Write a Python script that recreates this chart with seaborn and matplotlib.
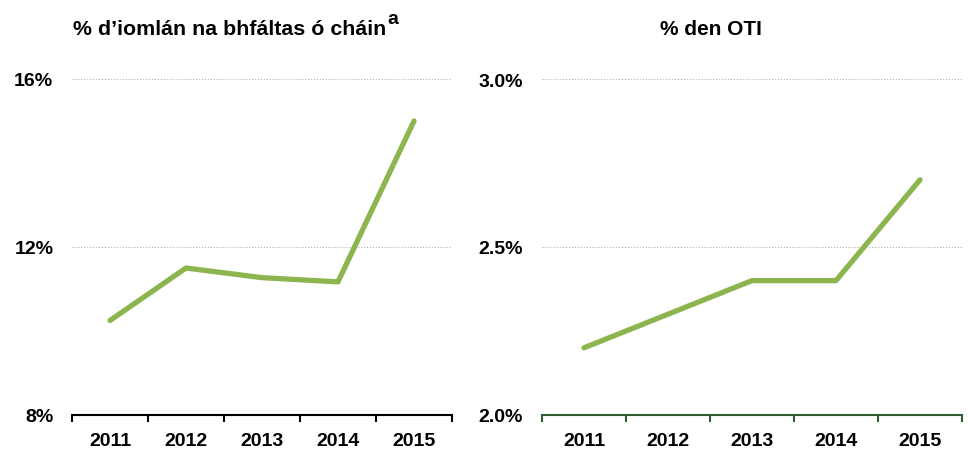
import pandas as pd
import matplotlib.pyplot as plt
import seaborn as sns

years = ['2011', '2012', '2013', '2014', '2015']
share_of_quota = [10.25, 11.5, 11.27, 11.17, 15.0]   # % d'iomlán na bhfáltas ó cháin
share_of_gni = [2.2, 2.3, 2.4, 2.4, 2.7]             # % den OTI

sns.set_theme(style='white')
plt.rcParams['font.family'] = ['Liberation Sans', 'DejaVu Sans']

green = '#8db54f'
fig, axes = plt.subplots(1, 2, figsize=(9.68, 4.56), dpi=100,
                         gridspec_kw={'width_ratios': [380, 420]})
fig.subplots_adjust(left=72 / 968, right=962 / 968, top=1 - 80 / 456, bottom=1 - 416 / 456, wspace=0.225)

panels = [
    (axes[0], share_of_quota, '% d\u2019iomlán na bhfáltas ó cháin', 0.415, 15.4, [8, 12, 16], '{:.0f}%', 'black'),
    (axes[1], share_of_gni, '% den OTI', 0.402, 15, [2.0, 2.5, 3.0], '{:.1f}%', '#2e5e2e'),
]

for ax, vals, title, tx, tsize, yt, fmt, spine_col in panels:
    df = pd.DataFrame({'year': years, 'value': vals})
    sns.lineplot(data=df, x='year', y='value', ax=ax, color=green, linewidth=3.8,
                 sort=False, solid_capstyle='round')
    ax.set_xlim(-0.5, 4.5)
    ax.set_ylim(yt[0], yt[-1])
    ax.set_yticks(yt)
    ax.set_yticklabels([fmt.format(v) for v in yt], fontsize=14, fontweight='bold', color='black')
    ax.set_xticks([0, 1, 2, 3, 4])
    ax.set_xticklabels(years, fontsize=14, fontweight='bold', color='black')
    ax.set_xticks([-0.5, 0.5, 1.5, 2.5, 3.5, 4.5], minor=True)
    ax.tick_params(axis='x', which='major', length=0, pad=12)
    ax.tick_params(axis='x', which='minor', bottom=True, length=5, width=1.5, color=spine_col, direction='out')
    ax.tick_params(axis='y', length=0, pad=13.5)
    for g in yt[1:]:
        ax.axhline(g, color='#b0b0b0', linestyle=':', linewidth=0.8, zorder=0)
    for s in ['top', 'right', 'left']:
        ax.spines[s].set_visible(False)
    ax.spines['bottom'].set_color(spine_col)
    ax.spines['bottom'].set_linewidth(1.5)
    ax.spines['bottom'].set_zorder(3)
    ax.set_xlabel('')
    ax.set_ylabel('')
    t = ax.text(tx, 1 + 45 / 336, title, transform=ax.transAxes, ha='center', va='baseline',
                fontsize=tsize, fontweight='bold', color='black')
    if ax is axes[0]:
        ax.annotate('a', xy=(1, 1), xycoords=t, xytext=(1, 0), textcoords='offset points',
                    ha='left', va='center', fontsize=14, fontweight='bold', color='black')

fig.savefig('out.png', dpi=100)
